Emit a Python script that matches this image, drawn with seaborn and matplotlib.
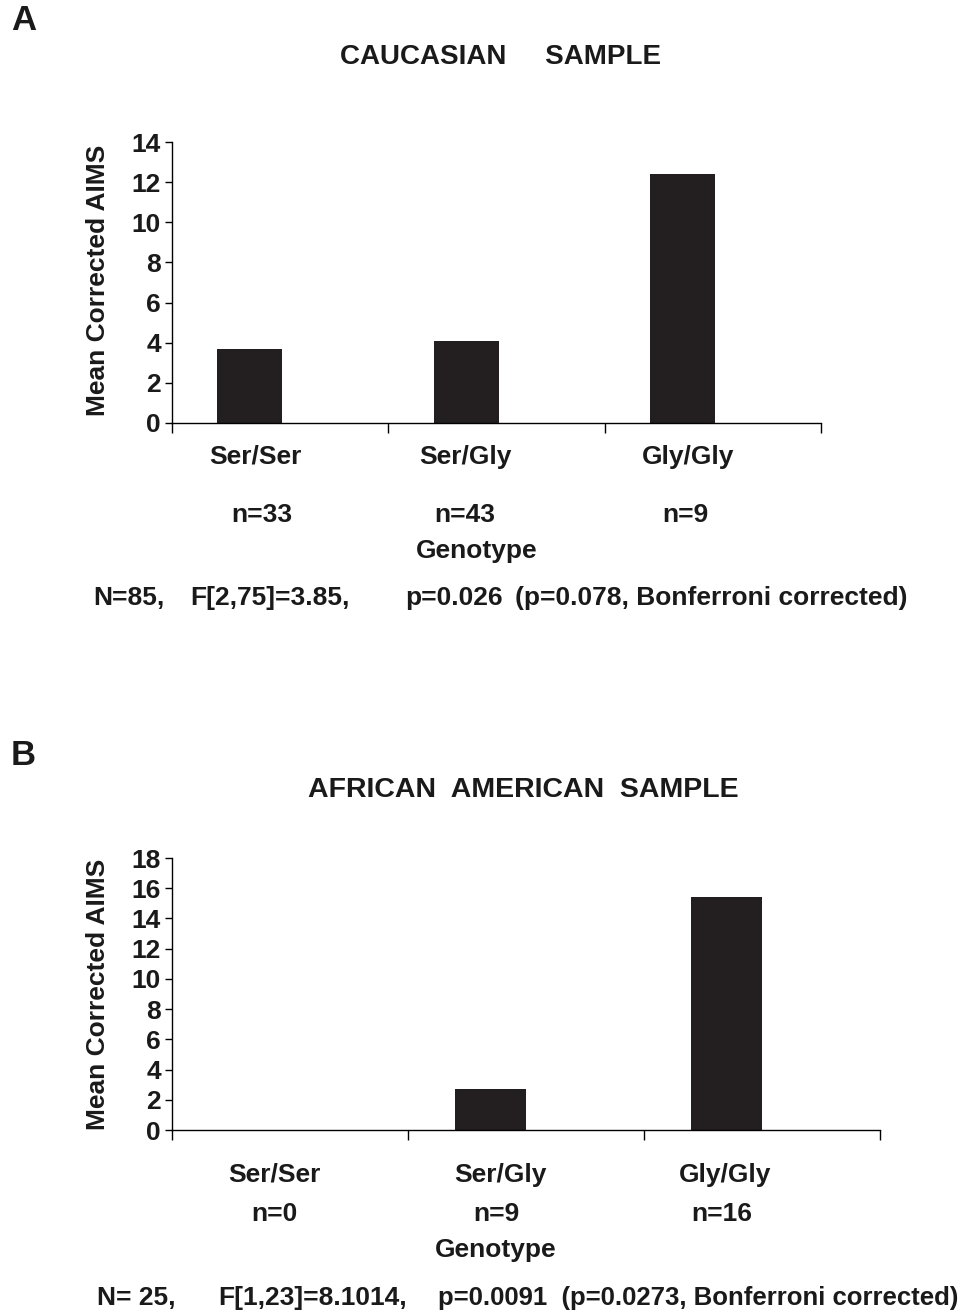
import matplotlib
matplotlib.use("Agg")
import matplotlib.pyplot as plt
import seaborn as sns
import pandas as pd

genotypes = ["Ser/Ser", "Ser/Gly", "Gly/Gly"]
caucasian_values = [3.7, 4.1, 12.4]
caucasian_n = ["n=33", "n=43", "n=9"]
african_values = [0.0, 2.7, 15.4]
african_n = ["n=0", "n=9", "n=16"]
caucasian_stats = ["N=85,", "F[2,75]=3.85,", "p=0.026", "(p=0.078, Bonferroni corrected)"]
african_stats = ["N= 25,", "F[1,23]=8.1014,", "p=0.0091", "(p=0.0273, Bonferroni corrected)"]

sns.set_theme(style="ticks")
plt.rcParams['font.family'] = ['Liberation Sans', 'DejaVu Sans']
plt.rcParams['font.weight'] = 'bold'

W, H = 977, 1314
fig = plt.figure(figsize=(W / 100, H / 100), dpi=100)
BAR = "#231f20"
TXT = "#1a1a1a"


def px_axes(left, top, right, bottom):
    return fig.add_axes([left / W, 1 - bottom / H, (right - left) / W, (bottom - top) / H])


def panel(ax, values, ymax, step, lo, hi):
    df = pd.DataFrame({"Genotype": genotypes, "Value": values})
    sns.barplot(data=df, x="Genotype", y="Value", ax=ax, color=BAR, width=0.3,
                saturation=1, edgecolor=BAR, linewidth=0)
    ax.set_xlim(lo, hi)
    ax.set_ylim(0, ymax)
    ax.set_yticks(range(0, ymax + 1, step))
    ax.set_xticks([lo + k for k in range(4)])
    ax.set_xticklabels([])
    ax.set_xlabel("")
    ax.set_ylabel("")
    for s in ["top", "right"]:
        ax.spines[s].set_visible(False)
    for s in ["left", "bottom"]:
        ax.spines[s].set_color("black")
        ax.spines[s].set_linewidth(1.0)
    ax.tick_params(axis="y", length=5, width=1, color="black", labelsize=19, pad=3,
                   labelcolor=TXT)
    ax.tick_params(axis="x", length=7, width=1, color="black")
    for lab in ax.get_yticklabels():
        lab.set_fontweight("bold")


def ftext(x, y, s, size=19, ha="left", rot=0):
    fig.text(x / W, 1 - y / H, s, fontsize=size, fontweight="bold", ha=ha, va="center",
             rotation=rot, color=TXT)


# Panel A
axA = px_axes(172, 142, 821, 423)
panel(axA, caucasian_values, 14, 2, -0.36, 2.64)
ftext(98, 280, "Mean Corrected AIMS", rot=90, ha="center")
ftext(11, 20, "A", size=25)
ftext(500, 57, "CAUCASIAN     SAMPLE", size=20, ha="center")
for x, g in zip([255, 465, 688], genotypes):
    ftext(x, 457, g, ha="center")
for x, n in zip([262, 465, 685], caucasian_n):
    ftext(x, 515, n, ha="center")
ftext(477, 551, "Genotype", ha="center")
for x, s in zip([93, 190, 405, 515], caucasian_stats):
    ftext(x, 598, s)

# Panel B
axB = px_axes(172, 858, 880, 1130)
panel(axB, african_values, 18, 2, -0.35, 2.65)
ftext(98, 994, "Mean Corrected AIMS", rot=90, ha="center")
ftext(11, 755, "B", size=25)
ftext(523, 790, "AFRICAN  AMERICAN  SAMPLE", size=20.5, ha="center")
for x, g in zip([274, 500, 725], genotypes):
    ftext(x, 1175, g, ha="center")
for x, n in zip([274, 496, 722], african_n):
    ftext(x, 1214, n, ha="center")
ftext(496, 1250, "Genotype", ha="center")
ftext(97, 1298, african_stats[0])
ftext(218, 1298, african_stats[1])
ftext(438, 1298, african_stats[2] + "  " + african_stats[3], size=18.5)

fig.savefig("out.png", dpi=100, facecolor="white")
